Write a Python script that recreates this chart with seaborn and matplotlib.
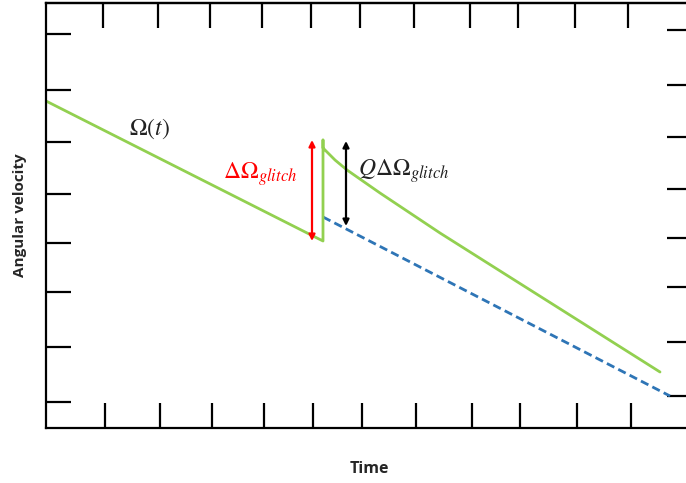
import matplotlib
matplotlib.use("Agg")
import matplotlib.pyplot as plt
import seaborn as sns
import pandas as pd

# Tick positions (arbitrary units, hand-placed schematic ticks)
time_ticks_bottom = [5.9, 11.4, 16.6, 21.8, 26.7, 31.6, 37.0, 42.6, 47.4, 53.1, 58.5]
time_ticks_top = [5.7, 11.2, 16.4, 21.6, 26.5, 31.4, 36.8, 42.4, 47.2, 52.9, 58.2]
omega_ticks_left = [39.4, 33.8, 28.6, 23.4, 18.5, 13.6, 8.1, 2.6]
omega_ticks_right = [39.8, 34.3, 29.1, 23.9, 19.0, 14.1, 8.6, 3.2]

# Spin-down, glitch jump and post-glitch recovery of Omega(t)
omega_t = [0.0, 27.1, 27.5, 27.7, 27.7, 27.7, 28.9, 30.1, 33.4, 39.4, 61.4]
omega_val = [32.7, 19.0, 18.8, 18.7, 28.8, 28.0, 26.8, 25.8, 23.5, 19.5, 5.6]

# Extrapolated spin-down after full recovery
base_t = [27.7, 62.4]
base_val = [21.1, 3.2]

# Glitch amplitudes
glitch_t = 26.6
glitch_lo, glitch_hi = 18.7, 28.8
recov_t = 30.0
recov_lo, recov_hi = 20.2, 28.7

sns.set_style("white")
plt.rcParams["mathtext.fontset"] = "stix"
plt.rcParams["font.family"] = ["Open Sans", "DejaVu Sans"]

fig = plt.figure(figsize=(6.86, 4.83), dpi=100)
ax = fig.add_axes([46 / 686, 55 / 483, 646 / 686, 425 / 483])

green = "#92d050"
blue = "#2e75b6"

df_omega = pd.DataFrame({"t": omega_t, "omega": omega_val})
df_base = pd.DataFrame({"t": base_t, "omega": base_val})

sns.lineplot(data=df_base, x="t", y="omega", ax=ax, sort=False, estimator=None,
             color=blue, lw=2.0, linestyle=(0, (3, 1.6)))
sns.lineplot(data=df_omega, x="t", y="omega", ax=ax, sort=False, estimator=None,
             color=green, lw=2.0)

ax.annotate("", xy=(glitch_t, glitch_hi), xytext=(glitch_t, glitch_lo),
            arrowprops=dict(arrowstyle="<|-|>", color="red", lw=1.6,
                            mutation_scale=9, shrinkA=0, shrinkB=0))
ax.annotate("", xy=(recov_t, recov_hi), xytext=(recov_t, recov_lo),
            arrowprops=dict(arrowstyle="<|-|>", color="black", lw=1.6,
                            mutation_scale=9, shrinkA=0, shrinkB=0))

ax.text(10.3, 29.9, r"$\Omega(t)$", fontsize=17, ha="center", va="center",
        color="#222222")
ax.text(25.1, 25.4, r"$\Delta\Omega_{glitch}$", fontsize=17, ha="right",
        va="center", color="red")
ax.text(31.2, 25.7, r"$Q\Delta\Omega_{glitch}$", fontsize=17, ha="left",
        va="center", color="#222222")

ax.set_xlim(0, 64.6)
ax.set_ylim(0, 42.5)
ax.set_xticks(time_ticks_bottom)
ax.set_yticks(omega_ticks_left)
ax.set_xticklabels([])
ax.set_yticklabels([])
ax.tick_params(direction="in", length=18, width=1.6, color="black",
               bottom=True, left=True, top=False, right=False)

secx = ax.secondary_xaxis("top")
secx.set_xticks(time_ticks_top)
secx.set_xticklabels([])
secx.tick_params(direction="in", length=18, width=1.6, color="black")
secy = ax.secondary_yaxis("right")
secy.set_yticks(omega_ticks_right)
secy.set_yticklabels([])
secy.tick_params(direction="in", length=18, width=1.6, color="black")

for a in (ax, secx, secy):
    for sp in a.spines.values():
        sp.set_color("black")
        sp.set_linewidth(1.6)

ax.set_xlabel("Time", fontsize=11.5, fontweight="bold", labelpad=20)
ax.set_ylabel("Angular velocity", fontsize=11, fontweight="bold", labelpad=10)

fig.savefig("out.png", dpi=100)
